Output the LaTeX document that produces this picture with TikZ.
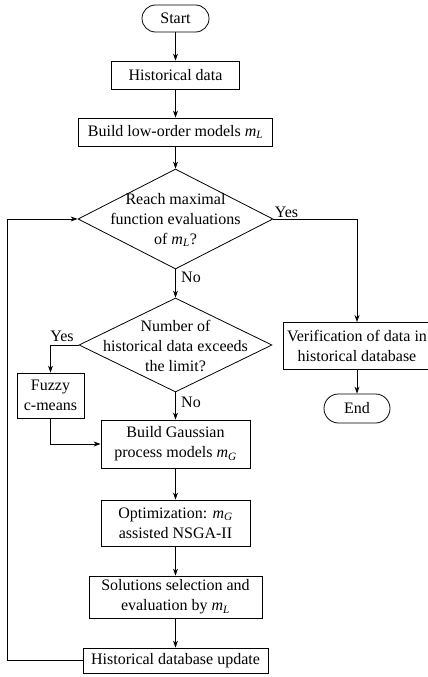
\documentclass[tikz,border=0pt]{standalone}
\usepackage{fontspec}
\setmainfont{Liberation Serif}
\usetikzlibrary{shapes.geometric,arrows.meta}
\newcommand{\mL}{\textit{m}\textsubscript{\textit{L}}}
\newcommand{\mG}{\textit{m}\textsubscript{\textit{G}}}
\tikzset{
  every node/.style={font=\fontsize{16}{20}\selectfont, inner sep=0pt, align=center},
  box/.style={draw, line width=0.8pt, rectangle},
  term/.style={draw, line width=0.8pt, rectangle, rounded corners=13.5pt},
  dia/.style={draw, line width=0.8pt, diamond},
  conn/.style={line width=0.8pt, -{Stealth[length=7pt,width=5pt]}},
}
\begin{document}
\begin{tikzpicture}[x=1pt,y=-1pt]
\useasboundingbox (0,0) rectangle (428,677);
\begin{scope}
\clip (0,0) rectangle (428,677);
\node[term, minimum width=67pt, minimum height=27pt] (start) at (175.5,18.5) {Start};
\node[box, minimum width=128pt, minimum height=28pt] (hist) at (175.5,75) {Historical data};
\node[box, minimum width=194pt, minimum height=28pt] (build) at (175.5,132) {Build low-order models \mL};
\node[dia, minimum width=195pt, minimum height=100pt] (d1) at (175.5,219) {};
\node (d1t) at (175.5,220) {Reach maximal\\function evaluations\\of \mL?};
\node[dia, minimum width=193pt, minimum height=94pt] (d2) at (175.5,345) {};
\node (d2t) at (175.5,346) {Number of\\historical data exceeds\\the limit?};
\node[box, minimum width=160pt, minimum height=47pt] (verif) at (363,345.5) {};
\node (veriftext) at (357,345.5) {Verification of data in\\historical database};
\node[term, rounded corners=14.5pt, minimum width=66pt, minimum height=29pt] (end) at (357,408.5) {End};
\node[box, minimum width=67pt, minimum height=45pt] (fuzzy) at (50.5,395.5) {Fuzzy\\c-means};
\node[box, minimum width=149pt, minimum height=48pt] (gauss) at (175.5,444) {Build Gaussian\\process models \mG};
\node[box, minimum width=149pt, minimum height=46pt] (optim) at (175.5,523) {Optimization: \mG\\assisted NSGA-II};
\node[box, minimum width=173pt, minimum height=42pt] (sol) at (175.5,597) {Solutions selection and\\evaluation by \mL};
\node[box, minimum width=185pt, minimum height=25pt] (upd) at (175.5,660.5) {Historical database update};
\node (yes1) at (286.5,212) {Yes};
\node (no1) at (191,277) {No};
\node (yes2) at (62,336) {Yes};
\node (no2) at (191,402) {No};
\coordinate (fb) at (7,660.5);
\coordinate (vtop) at (357,322);
\coordinate (vbot) at (357,369);
\draw[conn] (start) -- (hist);
\draw[conn] (hist) -- (build);
\draw[conn] (build) -- (d1.north);
\draw[conn] (d1.south) -- (d2.north);
\draw[conn] (d1.east) -| (vtop);
\draw[conn] (vbot) -- (end);
\draw[conn] (d2.west) -| (fuzzy.north);
\draw[conn] (fuzzy.south) |- (gauss.west);
\draw[conn] (d2.south) -- (gauss.north);
\draw[conn] (gauss) -- (optim);
\draw[conn] (optim) -- (sol);
\draw[conn] (sol) -- (upd);
\draw[conn] (upd.west) -- (fb) |- (d1.west);
\end{scope}
\end{tikzpicture}
\end{document}
